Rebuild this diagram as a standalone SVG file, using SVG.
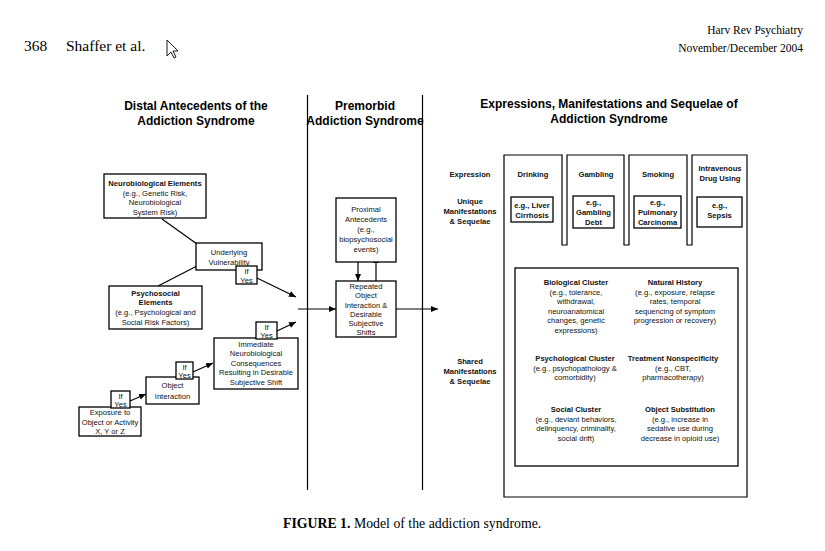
<svg xmlns="http://www.w3.org/2000/svg" width="825" height="551" viewBox="0 0 825 551">
<defs>
<marker id="ah" markerWidth="8" markerHeight="8" refX="7" refY="4" orient="auto" markerUnits="userSpaceOnUse">
<path d="M0,1 L7,4 L0,7 Z" fill="#000"/>
</marker>
<style>
.bx{fill:#fff;stroke:#000;stroke-width:1.3}
.ln{fill:none;stroke:#000;stroke-width:1.2}
.t{font-family:"Liberation Sans",Arial,sans-serif;font-size:7.6px;fill:#111;text-anchor:middle}
.b{font-weight:bold}
.h{font-family:"Liberation Sans",Arial,sans-serif;font-size:12px;font-weight:bold;fill:#000;text-anchor:middle}
.s{font-family:"Liberation Serif","Times New Roman",serif;fill:#000}
</style>
</defs>
<rect width="825" height="551" fill="#fff"/>

<g id="header">
<text class="s" x="24" y="51" font-size="15.5">368</text>
<text class="s" x="66" y="51" font-size="15.5">Shaffer et al.</text>
<path d="M167,40 L167,56 L171,52 L174,58 L176,57 L173,51 L178,51 Z" fill="#fff" stroke="#000" stroke-width="0.9"/>
<text class="s" x="803" y="34" font-size="11.5" text-anchor="end">Harv Rev Psychiatry</text>
<text class="s" x="803" y="52" font-size="11.5" text-anchor="end">November/December 2004</text>
</g>

<g id="titles">
<text class="h" x="196" y="110">Distal Antecedents of the</text>
<text class="h" x="196" y="125">Addiction Syndrome</text>
<text class="h" x="365" y="110">Premorbid</text>
<text class="h" x="365" y="125">Addiction Syndrome</text>
<text class="h" x="609" y="108">Expressions, Manifestations and Sequelae of</text>
<text class="h" x="609" y="123">Addiction Syndrome</text>
</g>

<g id="dividers">
<line class="ln" x1="307.5" y1="95" x2="307.5" y2="490"/>
<line class="ln" x1="422.5" y1="95" x2="422.5" y2="490"/>
</g>

<g id="connectors">
<line class="ln" x1="162" y1="219" x2="197" y2="244"/>
<line class="ln" x1="158" y1="286" x2="197" y2="266"/>
<line class="ln" x1="257" y1="278" x2="296" y2="297" marker-end="url(#ah)"/>
<line class="ln" x1="130" y1="401" x2="146" y2="394" marker-end="url(#ah)"/>
<line class="ln" x1="193" y1="372" x2="213" y2="363" marker-end="url(#ah)"/>
<line class="ln" x1="277" y1="331" x2="296" y2="322" marker-end="url(#ah)"/>
<line class="ln" x1="298" y1="309" x2="336" y2="309" marker-end="url(#ah)"/>
<line class="ln" x1="358" y1="262" x2="358" y2="281" marker-end="url(#ah)"/>
<line class="ln" x1="376" y1="281" x2="376" y2="256" marker-end="url(#ah)"/>
<line class="ln" x1="396" y1="309" x2="438" y2="309" marker-end="url(#ah)"/>
</g>

<g id="neurobiological">
<rect class="bx" x="104" y="174" width="102" height="44"/>
<text class="t b" x="155" y="186">Neurobiological Elements</text>
<text class="t" x="155" y="195.5">(e.g., Genetic Risk,</text>
<text class="t" x="155" y="205">Neurobiological</text>
<text class="t" x="155" y="214.5">System Risk)</text>
</g>

<g id="vulnerability">
<rect class="bx" x="196" y="243" width="66" height="27"/>
<text class="t" x="229" y="255">Underlying</text>
<text class="t" x="229" y="265">Vulnerability</text>
<rect class="bx" x="236" y="266" width="21" height="18"/>
<text class="t" x="246.5" y="274">If</text>
<text class="t" x="246.5" y="282.5">Yes</text>
</g>

<g id="psychosocial">
<rect class="bx" x="109" y="286" width="93" height="43"/>
<text class="t b" x="155.5" y="296">Psychosocial</text>
<text class="t b" x="155.5" y="305">Elements</text>
<text class="t" x="155.5" y="315">(e.g., Psychological and</text>
<text class="t" x="155.5" y="324.5">Social Risk Factors)</text>
</g>

<g id="exposure">
<rect class="bx" x="79" y="407" width="62" height="29"/>
<text class="t" x="110" y="415">Exposure to</text>
<text class="t" x="110" y="424.5">Object or Activity</text>
<text class="t" x="110" y="434">X, Y or Z</text>
<rect class="bx" x="111" y="391" width="19" height="17"/>
<text class="t" x="120.5" y="398.5">If</text>
<text class="t" x="120.5" y="406.5">Yes</text>
</g>

<g id="object-interaction">
<rect class="bx" x="146" y="377" width="53" height="27"/>
<text class="t" x="172.5" y="388">Object</text>
<text class="t" x="172.5" y="398.5">Interaction</text>
<rect class="bx" x="176" y="362" width="17" height="17"/>
<text class="t" x="184.5" y="369.5">If</text>
<text class="t" x="184.5" y="377.5">Yes</text>
</g>

<g id="immediate">
<rect class="bx" x="214" y="338" width="84" height="51"/>
<text class="t" x="256" y="346.5">Immediate</text>
<text class="t" x="256" y="356">Neurobiological</text>
<text class="t" x="256" y="365.5">Consequences</text>
<text class="t" x="256" y="375">Resulting in Desirable</text>
<text class="t" x="256" y="384.5">Subjective Shift</text>
<rect class="bx" x="256" y="322" width="21" height="17"/>
<text class="t" x="266.5" y="329.5">If</text>
<text class="t" x="266.5" y="337.5">Yes</text>
</g>

<g id="proximal">
<rect class="bx" x="336" y="198" width="60" height="64"/>
<text class="t" x="366" y="212">Proximal</text>
<text class="t" x="366" y="222">Antecedents</text>
<text class="t" x="366" y="232">(e.g.,</text>
<text class="t" x="366" y="242">biopsychosocial</text>
<text class="t" x="366" y="252">events)</text>
</g>

<g id="repeated">
<rect class="bx" x="336" y="281" width="60" height="56"/>
<text class="t" x="366" y="289">Repeated</text>
<text class="t" x="366" y="298">Object</text>
<text class="t" x="366" y="307.5">Interaction &amp;</text>
<text class="t" x="366" y="316.5">Desirable</text>
<text class="t" x="366" y="325.5">Subjective</text>
<text class="t" x="366" y="334.5">Shifts</text>
</g>

<g id="row-labels">
<text class="t b" x="470" y="177">Expression</text>
<text class="t b" x="470" y="204">Unique</text>
<text class="t b" x="470" y="214">Manifestations</text>
<text class="t b" x="470" y="224">&amp; Sequelae</text>
<text class="t b" x="470" y="364">Shared</text>
<text class="t b" x="470" y="374">Manifestations</text>
<text class="t b" x="470" y="384">&amp; Sequelae</text>
</g>

<g id="expressions-frame">
<path class="ln" d="M504,155 H562 V245 H567 V155 H624 V245 H629 V155 H687 V245 H692 V155 H747 V497 H504 Z" stroke-width="1.3"/>
</g>

<g id="drinking">
<text class="t b" x="533" y="177">Drinking</text>
<rect class="bx" x="511" y="197" width="42" height="25"/>
<text class="t b" x="532" y="208">e.g., Liver</text>
<text class="t b" x="532" y="218">Cirrhosis</text>
</g>

<g id="gambling">
<text class="t b" x="596" y="177">Gambling</text>
<rect class="bx" x="573" y="196" width="41" height="32"/>
<text class="t b" x="593.5" y="205">e.g.,</text>
<text class="t b" x="593.5" y="215">Gambling</text>
<text class="t b" x="593.5" y="224.5">Debt</text>
</g>

<g id="smoking">
<text class="t b" x="658" y="177">Smoking</text>
<rect class="bx" x="634" y="196" width="47" height="32"/>
<text class="t b" x="657.5" y="205">e.g.,</text>
<text class="t b" x="657.5" y="215">Pulmonary</text>
<text class="t b" x="657.5" y="224.5">Carcinoma</text>
</g>

<g id="intravenous">
<text class="t b" x="720" y="171">Intravenous</text>
<text class="t b" x="720" y="181">Drug Using</text>
<rect class="bx" x="697" y="197" width="45" height="30"/>
<text class="t b" x="719.5" y="208">e.g.,</text>
<text class="t b" x="719.5" y="218">Sepsis</text>
</g>

<g id="shared">
<rect class="bx" x="515" y="268" width="223" height="198"/>
<text class="t b" x="576" y="285">Biological Cluster</text>
<text class="t" x="576" y="294.5">(e.g., tolerance,</text>
<text class="t" x="576" y="304">withdrawal,</text>
<text class="t" x="576" y="313.5">neuroanatomical</text>
<text class="t" x="576" y="323">changes, genetic</text>
<text class="t" x="576" y="332.5">expressions)</text>
<text class="t b" x="675" y="285">Natural History</text>
<text class="t" x="675" y="294.5">(e.g., exposure, relapse</text>
<text class="t" x="675" y="304">rates, temporal</text>
<text class="t" x="675" y="313.5">sequencing of symptom</text>
<text class="t" x="675" y="323">progression or recovery)</text>
<text class="t b" x="575" y="361">Psychological Cluster</text>
<text class="t" x="575" y="370.5">(e.g., psychopathology &amp;</text>
<text class="t" x="575" y="380">comorbidity)</text>
<text class="t b" x="673" y="361">Treatment Nonspecificity</text>
<text class="t" x="673" y="370.5">(e.g., CBT,</text>
<text class="t" x="673" y="380">pharmacotherapy)</text>
<text class="t b" x="576" y="412">Social Cluster</text>
<text class="t" x="576" y="421.5">(e.g., deviant behaviors,</text>
<text class="t" x="576" y="431">delinquency, criminality,</text>
<text class="t" x="576" y="440.5">social drift)</text>
<text class="t b" x="680" y="412">Object Substitution</text>
<text class="t" x="680" y="421.5">(e.g., increase in</text>
<text class="t" x="680" y="431">sedative use during</text>
<text class="t" x="680" y="440.5">decrease in opioid use)</text>
</g>

<g id="caption">
<text class="s" x="283" y="528" font-size="13.8"><tspan font-weight="bold">FIGURE 1.</tspan> Model of the addiction syndrome.</text>
</g>
</svg>
